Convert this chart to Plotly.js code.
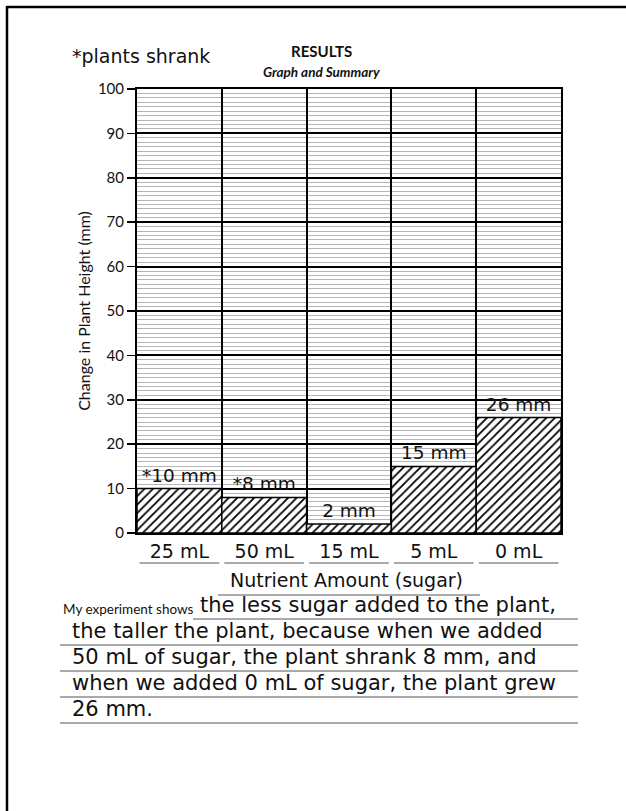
<!DOCTYPE html>
<html>
<head>
<meta charset="utf-8">
<script src="https://cdn.plot.ly/plotly-3.0.1.min.js"></script>
<style>html,body{margin:0;padding:0;background:#fff;}#chart{width:626px;height:811px;}</style>
</head>
<body>
<div id="chart"></div>
<script>
// ---- data ----
const categories = ['25 mL', '50 mL', '15 mL', '5 mL', '0 mL'];
const heightChange = [10, 8, 2, 15, 26];
const barLabels = ['*10 mm', '*8 mm', '2 mm', '15 mm', '26 mm'];
const yTickValues = [0, 10, 20, 30, 40, 50, 60, 70, 80, 90, 100];
const summaryLines = [
  'the less sugar added to the plant,',
  'the taller the plant, because when we added',
  '50 mL of sugar, the plant shrank 8 mm, and',
  'when we added 0 mL of sugar, the plant grew',
  '26 mm.'
];

// ---- layout helpers (pixel -> paper) ----
const W = 626, H = 811;
const L = 137, R = 561, T = 89, B = 533;
const px = v => (v - L) / (R - L);
const py = v => (B - v) / (B - T);
const HAND = 'DejaVu Sans, sans-serif';
const PRINT = 'Lato, sans-serif';

const annotations = [
  {text: '<b>RESULTS</b>', x: px(321), y: py(51), font: {family: PRINT, size: 15, color: '#111'}},
  {text: '<b><i>Graph and Summary</i></b>', x: px(321), y: py(72), font: {family: PRINT, size: 13.5, color: '#111'}},
  {text: '*plants shrank', x: px(70), y: py(56), xanchor: 'left', font: {family: HAND, size: 19, color: '#111'}},
  {text: 'Nutrient Amount (sugar)', x: px(346), y: py(580), font: {family: HAND, size: 19, color: '#111'}},
  {text: 'My experiment shows', x: px(61), y: py(609), xanchor: 'left', font: {family: PRINT, size: 13.5, color: '#111'}}
].map(a => Object.assign({xref: 'paper', yref: 'paper', showarrow: false, yanchor: 'middle', xanchor: a.xanchor || 'center'}, a));

const lineStartX = [198, 70, 70, 70, 70];
summaryLines.forEach((s, i) => {
  annotations.push({text: s, xref: 'paper', yref: 'paper', x: px(lineStartX[i]), y: py(605 + 26 * i),
    xanchor: 'left', yanchor: 'middle', showarrow: false, font: {family: HAND, size: 21, color: '#111'}});
});

const shapes = [
  // page border (top and left)
  {type: 'line', xref: 'paper', yref: 'paper', x0: px(7), x1: px(626), y0: py(7), y1: py(7), line: {color: '#000', width: 2.5}},
  {type: 'line', xref: 'paper', yref: 'paper', x0: px(7), x1: px(7), y0: py(6), y1: py(811), line: {color: '#000', width: 2.5}},
  // x-title underline
  {type: 'line', xref: 'paper', yref: 'paper', x0: px(218), x1: px(480), y0: py(595), y1: py(595), line: {color: '#555', width: 1}}
];
categories.forEach((c, i) => {
  shapes.push({type: 'line', xref: 'x', yref: 'paper', x0: i - 0.47, x1: i + 0.47, y0: py(563), y1: py(563), line: {color: '#555', width: 1}});
});
[619, 645, 671, 697, 723].forEach((yy, i) => {
  shapes.push({type: 'line', xref: 'paper', yref: 'paper', x0: px(i === 0 ? 193 : 60), x1: px(578), y0: py(yy), y1: py(yy), line: {color: '#555', width: 1}});
});

const trace = {
  type: 'bar',
  x: categories,
  y: heightChange,
  text: barLabels,
  textposition: 'outside',
  cliponaxis: false,
  textfont: {family: HAND, size: 18.5, color: '#111'},
  marker: {
    color: '#fff',
    pattern: {shape: '/', fgcolor: '#000', bgcolor: '#fff', size: 6, solidity: 0.3},
    line: {color: '#000', width: 1.5}
  },
  hoverinfo: 'none'
};

const layout = {
  width: W, height: H,
  margin: {l: L, r: W - R, t: T, b: H - B, pad: 0},
  paper_bgcolor: '#fff', plot_bgcolor: '#fff',
  showlegend: false,
  bargap: 0,
  xaxis: {
    type: 'category',
    tickson: 'boundaries',
    showgrid: true, gridcolor: '#000', gridwidth: 2,
    showline: true, linecolor: '#000', linewidth: 2, mirror: true,
    ticks: '', ticklen: 0,
    tickfont: {family: HAND, size: 19, color: '#111'},
    fixedrange: true
  },
  yaxis: {
    range: [0, 100],
    tickvals: yTickValues,
    ticks: 'outside', ticklen: 8, tickwidth: 1.5, tickcolor: '#000',
    showgrid: true, gridcolor: '#000', gridwidth: 2,
    zeroline: false,
    showline: true, linecolor: '#000', linewidth: 2, mirror: true,
    minor: {dtick: 1, showgrid: true, gridcolor: '#b5b5b5', gridwidth: 1, ticks: ''},
    tickfont: {family: PRINT, size: 15, color: '#111'},
    title: {text: 'Change in Plant Height (mm)', font: {family: PRINT, size: 16, color: '#111'}, standoff: 3},
    automargin: false,
    fixedrange: true
  },
  annotations: annotations,
  shapes: shapes
};

Plotly.newPlot('chart', [trace], layout, {displayModeBar: false, staticPlot: true});
</script>
</body>
</html>
